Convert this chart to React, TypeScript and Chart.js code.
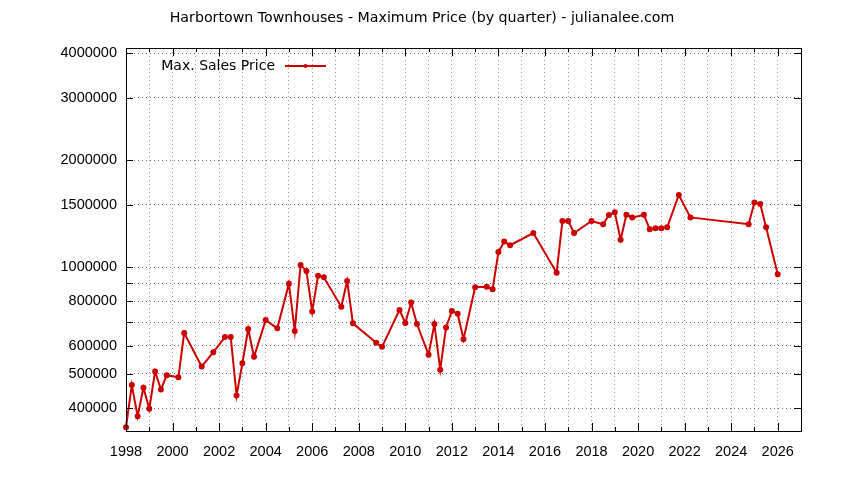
import { useEffect, useRef } from "react";
import { Chart, registerables } from "chart.js";

Chart.register(...registerables);

// quarter (decimal year) and max sale price
const quarters = [
  1998.0, 1998.25, 1998.5, 1998.75, 1999.0, 1999.25, 1999.5, 1999.75, 2000.25, 2000.5,
  2001.25, 2001.75, 2002.25, 2002.5, 2002.75, 2003.0, 2003.25, 2003.5, 2004.0, 2004.5,
  2005.0, 2005.25, 2005.5, 2005.75, 2006.0, 2006.25, 2006.5, 2007.25, 2007.5, 2007.75,
  2008.75, 2009.0, 2009.75, 2010.0, 2010.25, 2010.5, 2011.0, 2011.25, 2011.5, 2011.75,
  2012.0, 2012.25, 2012.5, 2013.0, 2013.5, 2013.75, 2014.0, 2014.25, 2014.5, 2015.5,
  2016.5, 2016.75, 2017.0, 2017.25, 2018.0, 2018.5, 2018.75, 2019.0, 2019.25, 2019.5,
  2019.75, 2020.25, 2020.5, 2020.75, 2021.0, 2021.25, 2021.75, 2022.25, 2024.75, 2025.0,
  2025.25, 2025.5, 2026.0,
];
const maxPrice = [
  354000, 465000, 380000, 457000, 399000, 508000, 452000, 496000, 489000, 652000,
  525000, 575000, 635000, 635000, 435000, 536000, 669000, 559000, 709000, 672000,
  898000, 660000, 1014000, 975000, 750000, 945000, 936000, 773000, 914000, 694000,
  612000, 596000, 757000, 696000, 794000, 691000, 566000, 691000, 514000, 676000,
  752000, 739000, 626000, 877000, 880000, 866000, 1102000, 1181000, 1152000, 1247000,
  964000, 1348000, 1348000, 1247000, 1348000, 1320000, 1401000, 1426000, 1194000, 1404000,
  1378000, 1404000, 1277000, 1286000, 1286000, 1294000, 1596000, 1380000, 1320000, 1521000,
  1505000, 1294000, 954000,
];

const yTicks = [400000, 500000, 600000, 700000, 800000, 900000, 1000000, 1500000, 2000000, 3000000, 4000000];
const yTickLabels = ["400000", "500000", "600000", "", "800000", "", "1000000", "1500000", "2000000", "3000000", "4000000"];

const title = "Harbortown Townhouses - Maximum Price (by quarter) - julianalee.com";
const seriesName = "Max. Sales Price";

const FONT = '"Liberation Sans", Arial, sans-serif';
const TEXT_FONT = '"DejaVu Sans", sans-serif';
const RED = "#cc0000";

const framePlugin = {
  id: "frame",
  afterDraw(chart: any) {
    const ctx = chart.ctx;
    const { left, right, top, bottom } = chart.chartArea;
    const xs = chart.scales.x;
    const ys = chart.scales.y;
    ctx.save();
    ctx.strokeStyle = "#000";
    ctx.lineWidth = 1;
    ctx.strokeRect(Math.round(left) + 0.5, Math.round(top) + 0.5, Math.round(right - left), Math.round(bottom - top));
    ctx.beginPath();
    yTicks.forEach((v) => {
      const py = Math.round(ys.getPixelForValue(v)) + 0.5;
      ctx.moveTo(left, py);
      ctx.lineTo(left + 7, py);
      ctx.moveTo(right, py);
      ctx.lineTo(right - 7, py);
    });
    for (let yr = 1998; yr <= 2027; yr++) {
      const px = Math.round(xs.getPixelForValue(yr)) + 0.5;
      const len = yr % 2 === 0 ? 8 : 4;
      ctx.moveTo(px, bottom);
      ctx.lineTo(px, bottom - len);
      ctx.moveTo(px, top);
      ctx.lineTo(px, top + len);
    }
    ctx.stroke();

    // title
    ctx.fillStyle = "#000";
    ctx.font = `14.2px ${TEXT_FONT}`;
    ctx.textAlign = "center";
    ctx.textBaseline = "middle";
    ctx.fillText(title, 422, 18);

    // key
    ctx.font = `14px ${TEXT_FONT}`;
    ctx.textAlign = "right";
    ctx.fillText(seriesName, 275, 66);
    ctx.strokeStyle = RED;
    ctx.lineWidth = 2;
    ctx.beginPath();
    ctx.moveTo(285, 66);
    ctx.lineTo(326, 66);
    ctx.stroke();
    ctx.fillStyle = RED;
    ctx.beginPath();
    ctx.arc(305.5, 66, 2, 0, Math.PI * 2);
    ctx.fill();
    ctx.restore();
  },
};

const PriceChart = () => {
  const canvasRef = useRef<HTMLCanvasElement>(null);

  useEffect(() => {
    document.body.style.margin = "0";
    if (!canvasRef.current) return;
    const ctx = canvasRef.current.getContext("2d");
    if (!ctx) return;

    const border = { display: false, dash: [1, 3] };

    const chart = new Chart(ctx, {
      type: "line",
      data: {
        datasets: [
          {
            label: seriesName,
            data: quarters.map((q, i) => ({ x: q, y: maxPrice[i] })),
            borderColor: RED,
            backgroundColor: RED,
            borderWidth: 2,
            pointRadius: 2,
            pointHoverRadius: 2,
            tension: 0,
            clip: 4,
          },
        ],
      },
      options: {
        animation: false,
        responsive: true,
        maintainAspectRatio: false,
        layout: { padding: { top: 48, right: 43, left: 0, bottom: 0 } },
        plugins: { legend: { display: false }, title: { display: false }, tooltip: { enabled: false } },
        scales: {
          x: {
            type: "linear",
            min: 1998,
            max: 2027,
            border,
            grid: { color: "rgba(0,0,0,0.38)", lineWidth: 1, drawTicks: false },
            afterBuildTicks: (scale: any) => {
              const t = [];
              for (let yr = 1998; yr <= 2027; yr++) t.push({ value: yr });
              scale.ticks = t;
            },
            afterFit: (scale: any) => {
              scale.height = 49;
            },
            ticks: {
              autoSkip: false,
              maxRotation: 0,
              padding: 12,
              color: "#000",
              font: { family: FONT, size: 14.5 },
              callback: (v: any) => (v % 2 === 0 && v <= 2026 ? String(v) : ""),
            },
          },
          y: {
            type: "logarithmic",
            min: 345300,
            max: 4140000,
            border,
            grid: { color: "rgba(0,0,0,0.55)", lineWidth: 1, drawTicks: false },
            afterBuildTicks: (scale: any) => {
              scale.ticks = yTicks.map((v) => ({ value: v }));
            },
            afterFit: (scale: any) => {
              scale.width = 126;
            },
            ticks: {
              autoSkip: false,
              padding: 9,
              color: "#000",
              font: { family: FONT, size: 14.5 },
              callback: (_v: any, i: number) => yTickLabels[i],
            },
          },
        },
      },
      plugins: [framePlugin],
    });

    return () => chart.destroy();
  }, []);

  return (
    <div style={{ position: "relative", width: 844, height: 480, background: "#fff" }}>
      <canvas ref={canvasRef}></canvas>
    </div>
  );
};

export default function App() {
  return <PriceChart />;
}
